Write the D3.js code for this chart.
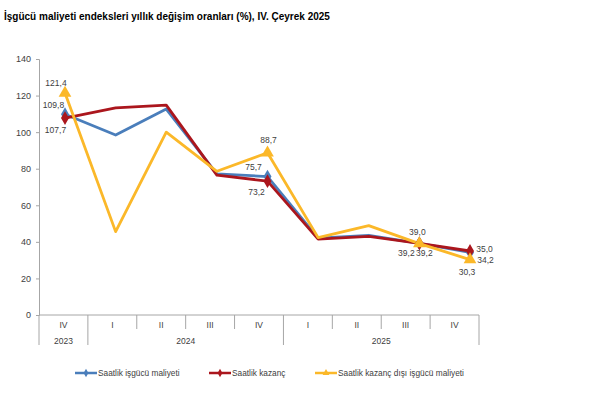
<!DOCTYPE html>
<html>
<head>
<meta charset="utf-8">
<script src="https://cdn.jsdelivr.net/npm/d3@7"></script>
<style>
  body { margin: 0; background: #fff; font-family: "Liberation Sans", Arial, sans-serif; }
  text { fill: #404040; }
</style>
</head>
<body>
<script>
// chart data
var quarters = ["IV", "I", "II", "III", "IV", "I", "II", "III", "IV"];
var years = [{ name: "2023", from: 0, to: 1 }, { name: "2024", from: 1, to: 5 }, { name: "2025", from: 5, to: 9 }];
var yTicks = [0, 20, 40, 60, 80, 100, 120, 140];

var isgucu = [109.8, 98.4, 112.6, 77.2, 75.7, 42.0, 43.6, 39.2, 34.2];
var kazanc = [107.7, 113.3, 114.8, 76.5, 73.2, 41.5, 43.0, 39.2, 35.0];
var kazancDisi = [121.4, 45.6, 100.0, 78.6, 88.7, 42.3, 48.9, 39.0, 30.3];

// which points get a marker + label, and the label offset (centre x, baseline y)
var labelsIsgucu = { 0: [-11.5, -6], 4: [-14, -6.5], 7: [-13, 12.7], 8: [15.5, 11] };
var labelsKazanc = { 0: [-9.5, 14.7], 4: [-11, 14.3], 7: [5, 12.7], 8: [14.5, 1] };
var labelsDisi = { 0: [-9, -7], 4: [1, -9.5], 7: [-2, -8.7], 8: [-3, 15] };

var series = [
  { name: "Saatlik işgücü maliyeti", values: isgucu, color: "#4a7ebb", shape: "diamond", labels: labelsIsgucu },
  { name: "Saatlik kazanç", values: kazanc, color: "#ab161d", shape: "diamond", labels: labelsKazanc },
  { name: "Saatlik kazanç dışı işgücü maliyeti", values: kazancDisi, color: "#fbb829", shape: "triangle", labels: labelsDisi }
];

var width = 595, height = 397;
var plotLeft = 39, plotRight = 479, plotTop = 59, plotBottom = 315;

var svg = d3.select("body").append("svg")
  .attr("width", width)
  .attr("height", height);

// title
svg.append("text")
  .attr("x", 4)
  .attr("y", 20)
  .style("font-size", "10px")
  .style("font-weight", "bold")
  .style("fill", "#000")
  .text("İşgücü maliyeti endeksleri yıllık değişim oranları (%), IV. Çeyrek 2025");

// category bands for the axis, points spread a bit wider than the bands
var x = d3.scaleBand().domain(d3.range(quarters.length)).range([plotLeft, plotRight]);
var xp = d3.scalePoint().domain(d3.range(quarters.length)).range([65, 470]);
var y = d3.scaleLinear().domain([0, 140]).range([plotBottom, plotTop]);

// y axis
var yAxis = d3.axisLeft(y).tickValues(yTicks).tickSize(3).tickPadding(5);
var gy = svg.append("g").attr("transform", "translate(" + plotLeft + ",0)").call(yAxis);
gy.select(".domain").attr("stroke", "#a6a6a6");
gy.selectAll(".tick line").attr("stroke", "#a6a6a6");
gy.selectAll(".tick text").style("font-size", "9px").style("fill", "#404040").style("font-family", "Liberation Sans, Arial, sans-serif");

// x axis line
svg.append("line")
  .attr("x1", plotLeft).attr("x2", plotRight)
  .attr("y1", plotBottom).attr("y2", plotBottom)
  .attr("stroke", "#a6a6a6");

// quarter / year dividers
svg.selectAll(".qdiv")
  .data(d3.range(quarters.length + 1))
  .enter().append("line")
  .attr("x1", function(i) { return i < quarters.length ? x(i) : plotRight; })
  .attr("x2", function(i) { return i < quarters.length ? x(i) : plotRight; })
  .attr("y1", plotBottom)
  .attr("y2", function(i) {
    var isYear = years.some(function(yr) { return yr.from === i || yr.to === i; });
    return isYear ? plotBottom + 30 : plotBottom + 14;
  })
  .attr("stroke", "#a6a6a6");

svg.selectAll(".qlabel")
  .data(quarters)
  .enter().append("text")
  .attr("x", function(d, i) { return x(i) + x.bandwidth() / 2; })
  .attr("y", plotBottom + 13)
  .attr("text-anchor", "middle")
  .style("font-size", "8.5px")
  .text(function(d) { return d; });

svg.selectAll(".ylabel")
  .data(years)
  .enter().append("text")
  .attr("x", function(d) { return (x(d.from) + (d.to < quarters.length ? x(d.to) : plotRight)) / 2; })
  .attr("y", plotBottom + 29)
  .attr("text-anchor", "middle")
  .style("font-size", "8.5px")
  .text(function(d) { return d.name; });

var line = d3.line()
  .x(function(d, i) { return xp(i); })
  .y(function(d) { return y(d); });

function symbolFor(shape, size) {
  return d3.symbol().type(shape === "triangle" ? d3.symbolTriangle : d3.symbolDiamond).size(size)();
}

series.forEach(function(s) {
  svg.append("path")
    .datum(s.values)
    .attr("d", line)
    .attr("fill", "none")
    .attr("stroke", s.color)
    .attr("stroke-width", 2.8)
    .attr("stroke-linejoin", "round");
});

series.forEach(function(s) {
  Object.keys(s.labels).forEach(function(k) {
    var i = +k;
    var cx = xp(i), cy = y(s.values[i]);
    svg.append("path")
      .attr("d", symbolFor(s.shape, s.shape === "triangle" ? 70 : 55))
      .attr("transform", "translate(" + cx + "," + cy + ")")
      .attr("fill", s.color);
    var off = s.labels[k];
    svg.append("text")
      .attr("x", cx + off[0])
      .attr("y", cy + off[1])
      .attr("text-anchor", "middle")
      .style("font-size", "8.5px")
      .text(d3.format(".1f")(s.values[i]).replace(".", ","));
  });
});

// legend
var legendX = [75, 209, 315];
var legend = svg.selectAll(".legend")
  .data(series)
  .enter().append("g")
  .attr("transform", function(d, i) { return "translate(" + legendX[i] + ",373)"; });

legend.append("line")
  .attr("x1", 0).attr("x2", 22)
  .attr("stroke", function(d) { return d.color; })
  .attr("stroke-width", 2.5);

legend.append("path")
  .attr("d", function(d) { return symbolFor(d.shape, 20); })
  .attr("transform", "translate(11,0)")
  .attr("fill", function(d) { return d.color; });

legend.append("text")
  .attr("x", 23)
  .attr("y", 3)
  .style("font-size", "8.3px")
  .text(function(d) { return d.name; });
</script>
</body>
</html>
